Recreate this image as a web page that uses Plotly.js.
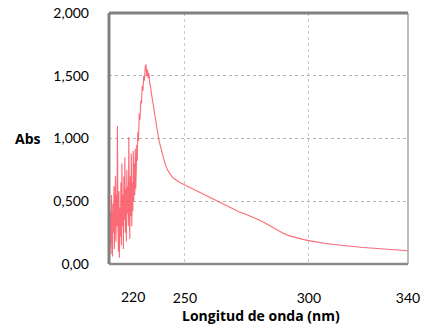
<!DOCTYPE html>
<html>
<head>
<meta charset="utf-8">
<script src="https://cdn.plot.ly/plotly-3.0.1.min.js"></script>
<style>html,body{margin:0;padding:0;background:#fff;}#chart{width:424px;height:330px;}</style>
</head>
<body>
<div id="chart"></div>
<script>
// Wavelength (nm)
var wavelength = [
  219.6,219.8,220.0,220.2,220.4,220.6,220.8,221.0,221.2,221.4,221.6,221.8,222.0,222.2,222.4,222.6,222.8,
  223.0,223.2,223.4,223.6,223.8,224.0,224.2,224.4,224.6,224.8,225.0,225.2,225.4,225.6,225.8,
  226.0,226.2,226.4,226.6,226.8,227.0,227.2,227.4,227.6,227.8,228.0,228.2,228.4,228.6,228.8,
  229.0,229.2,229.4,229.6,229.8,230.0,230.2,230.4,230.6,230.8,231.0,231.3,231.6,231.9,232.2,
  232.5,232.8,233.1,233.4,233.7,234.0,234.3,234.6,234.9,235.2,235.5,235.8,236.1,236.5,237.0,
  237.5,238.0,238.5,239.0,239.5,240,241,242,243,244,245,246,247,248,250,252,254,256,258,260,
  262,264,266,268,270,272,274,276,278,280,282,284,286,288,290,292,294,296,298,300,302,304,
  306,308,310,312,314,316,318,320,322,324,326,328,330,332,334,336,338,340
];
// Absorbance
var absorbance = [
  0.50,0.15,0.42,0.08,0.55,0.20,0.06,0.48,0.25,0.62,0.12,0.40,0.70,0.18,0.55,0.30,1.10,
  0.35,0.10,0.58,0.05,0.45,0.22,0.65,0.15,0.80,0.30,0.55,0.12,0.70,0.35,0.85,
  0.25,0.60,0.18,0.75,0.40,0.62,0.30,1.01,0.45,0.20,0.70,0.38,0.88,0.30,0.65,
  0.42,0.90,0.50,0.80,0.55,0.92,0.60,0.75,0.95,0.82,1.05,0.98,1.20,1.15,1.30,
  1.28,1.42,1.38,1.50,1.46,1.57,1.59,1.50,1.55,1.48,1.52,1.44,1.42,1.36,1.30,
  1.22,1.16,1.09,1.03,0.99,0.95,0.87,0.80,0.75,0.715,0.69,0.675,0.66,0.65,0.63,0.61,0.59,0.575,0.555,0.535,
  0.515,0.495,0.475,0.455,0.435,0.415,0.40,0.385,0.368,0.35,0.33,0.308,0.285,0.262,0.242,0.226,0.214,0.204,0.194,0.186,0.178,0.172,
  0.165,0.16,0.155,0.152,0.15,0.145,0.14,0.136,0.132,0.129,0.131,0.128,0.121,0.118,0.115,0.112,0.109,0.106
];
var yTickVals = [0, 0.5, 1.0, 1.5, 2.0];
var yTickText = ["0,00", "0,500", "1,000", "1,500", "2,000"];
var xTickVals = [250, 300, 340];
var xTickText = ["250", "300", "340"];
var xFirstLabel = "220";

var tickFont = {family: "Lato, 'Open Sans', sans-serif", size: 14, color: "#000"};
var boldFont = {family: "'Open Sans', Lato, sans-serif", size: 14, color: "#000"};

Plotly.newPlot("chart", [{
  x: wavelength, y: absorbance, type: "scatter", mode: "lines",
  line: {color: "rgba(250,70,85,0.8)", width: 1.1},
  hoverinfo: "skip"
}], {
  width: 424, height: 330,
  margin: {l: 109, r: 16, t: 13, b: 66, pad: 0},
  paper_bgcolor: "#fff", plot_bgcolor: "#fff",
  showlegend: false,
  font: tickFont,
  xaxis: {
    range: [219.4, 340], tickmode: "array", tickvals: xTickVals, ticktext: xTickText,
    showgrid: true, gridcolor: "#c8c8c8", griddash: "dot", gridwidth: 1,
    zeroline: false, showline: false, ticks: "", ticklabelstandoff: 24,
    tickfont: tickFont
  },
  yaxis: {
    range: [0, 2.0], tickmode: "array", tickvals: yTickVals, ticktext: yTickText,
    showgrid: true, gridcolor: "#b4b4b4", griddash: "dot", gridwidth: 1,
    zeroline: false, showline: false, ticks: "", ticklabelstandoff: 19,
    tickfont: tickFont
  },
  shapes: [
    {type: "line", xref: "paper", yref: "paper", x0: 1, x1: 1, y0: 0, y1: 1, line: {color: "#a6a6a6", width: 1.5}},
    {type: "line", xref: "paper", yref: "paper", x0: 0, x1: 1, y0: 0, y1: 0, line: {color: "#8a8a8a", width: 2.5}},
    {type: "line", xref: "paper", yref: "paper", x0: 0, x1: 1, y0: 1, y1: 1, line: {color: "#808080", width: 3}},
    {type: "line", xref: "paper", yref: "paper", x0: 0, x1: 0, y0: 0, y1: 1, line: {color: "#808080", width: 3}}
  ],
  annotations: [
    {text: xFirstLabel, xref: "paper", yref: "paper", x: 0.08, y: -0.1275, xanchor: "center", yanchor: "middle", showarrow: false, font: tickFont},
    {text: "<b>Abs</b>", xref: "paper", yref: "paper", x: -0.27, y: 0.5, xanchor: "center", yanchor: "middle", showarrow: false, font: boldFont},
    {text: "<b>Longitud de onda (nm)</b>", xref: "paper", yref: "paper", x: 0.51, y: -0.207, xanchor: "center", yanchor: "middle", showarrow: false, font: boldFont}
  ]
}, {displayModeBar: false, staticPlot: true});
</script>
</body>
</html>
